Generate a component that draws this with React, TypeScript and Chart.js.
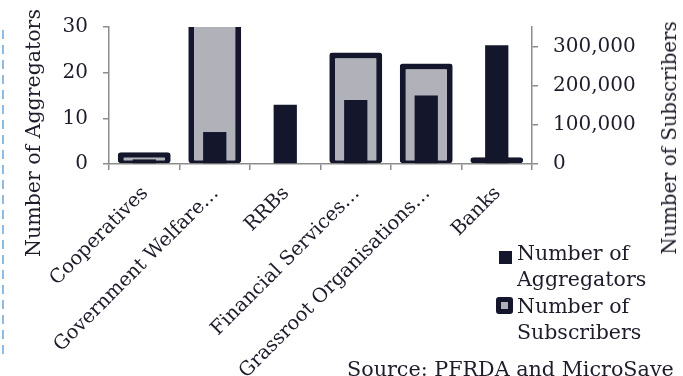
import React, { useEffect, useRef } from 'react';
import { Chart, registerables } from 'chart.js';

Chart.register(...registerables);

const categories = [
  'Cooperatives',
  'Government Welfare…',
  'RRBs',
  'Financial Services…',
  'Grassroot Organisations…',
  'Banks',
];
const aggregators = [1, 7, 13, 14, 15, 26];
const subscribers = [30000, 400000, 0, 285000, 257000, 17000];
const leftTicks = [0, 10, 20, 30];
const rightTicks = [0, 100000, 200000, 300000];
const seriesNames = ['Number of Aggregators', 'Number of Subscribers'];
const leftTitle = 'Number of Aggregators';
const rightTitle = 'Number of Subscribers';
const sourceText = 'Source: PFRDA and MicroSave';

const NAVY = '#14162b';
const GREY = '#b1b1b9';
const AXIS = '#8c8c8c';
const TEXT = '#1c1c2a';
const FONT = "'DejaVu Serif', serif";

export default function App() {
  const ref = useRef<HTMLCanvasElement | null>(null);

  useEffect(() => {
    document.body.style.margin = '0';
    const canvas = ref.current;
    if (!canvas) return;
    const chart = new Chart(canvas, {
      type: 'bar',
      data: {
        labels: categories,
        datasets: [
          {
            label: seriesNames[0],
            data: aggregators,
            yAxisID: 'y',
            backgroundColor: NAVY,
            borderWidth: 0,
            grouped: false,
            categoryPercentage: 1,
            barPercentage: 0.33,
            order: 0,
          },
          {
            label: seriesNames[1],
            data: subscribers,
            yAxisID: 'y1',
            backgroundColor: GREY,
            borderColor: NAVY,
            borderWidth: { top: 6, left: 6, right: 6, bottom: 3 },
            borderSkipped: false,
            borderRadius: 3,
            grouped: false,
            categoryPercentage: 1,
            barPercentage: 0.75,
            order: 1,
          },
        ],
      },
      options: {
        responsive: false,
        animation: false,
        devicePixelRatio: 1,
        layout: { padding: { top: 15, left: 0, right: 0, bottom: 0 } },
        plugins: {
          legend: { display: false },
          tooltip: { enabled: false },
          title: { display: false },
        },
        scales: {
          x: {
            offset: true,
            grid: {
              offset: true,
              drawOnChartArea: false,
              drawTicks: true,
              tickLength: 6,
              color: AXIS,
              lineWidth: 1.5,
            },
            border: { display: true, color: AXIS, width: 1.5 },
            ticks: {
              autoSkip: false,
              minRotation: 45,
              maxRotation: 45,
              padding: 12,
              labelOffset: 1,
              color: TEXT,
              font: { family: FONT, size: 19.5 },
            },
            afterFit: (s: any) => {
              s.height = 212;
            },
          },
          y: {
            position: 'left',
            min: 0,
            max: 30,
            afterBuildTicks: (s: any) => {
              s.ticks = leftTicks.map((v) => ({ value: v }));
            },
            grid: {
              drawOnChartArea: false,
              drawTicks: true,
              tickLength: 6,
              color: AXIS,
              lineWidth: 1.5,
            },
            border: { display: true, color: AXIS, width: 1.5 },
            ticks: {
              padding: 15,
              color: TEXT,
              font: { family: FONT, size: 20 },
            },
            afterFit: (s: any) => {
              s.width = 109;
            },
          },
          y1: {
            position: 'right',
            min: 0,
            max: 350000,
            afterBuildTicks: (s: any) => {
              s.ticks = rightTicks.map((v) => ({ value: v }));
            },
            grid: {
              drawOnChartArea: false,
              drawTicks: true,
              tickLength: 6,
              color: AXIS,
              lineWidth: 1.5,
            },
            border: { display: true, color: AXIS, width: 1.5 },
            ticks: {
              padding: 15,
              color: TEXT,
              font: { family: FONT, size: 20 },
              callback: (v: any) => Number(v).toLocaleString('en-US'),
            },
            afterFit: (s: any) => {
              s.width = 151;
            },
          },
        },
      },
    } as any);
    return () => chart.destroy();
  }, []);

  const textStyle: React.CSSProperties = {
    position: 'absolute',
    fontFamily: FONT,
    color: TEXT,
    whiteSpace: 'nowrap',
  };

  return (
    <div style={{ position: 'relative', width: 683, height: 376, overflow: 'hidden', background: '#fff' }}>
      <canvas ref={ref} width={683} height={376} style={{ position: 'absolute', left: 0, top: 0, width: 683, height: 376 }} />
      <div
        style={{
          position: 'absolute',
          left: 2,
          top: 30,
          width: 2,
          height: 330,
          background: 'repeating-linear-gradient(to bottom, #8dbbe3 0px, #8dbbe3 9px, transparent 9px, transparent 15px)',
        }}
      />
      <div
        style={{
          ...textStyle,
          fontSize: 20.5,
          lineHeight: '24px',
          left: 33,
          top: 133,
          transform: 'translate(-50%, -50%) rotate(-90deg)',
        }}
      >
        {leftTitle}
      </div>
      <div
        style={{
          ...textStyle,
          fontSize: 19.7,
          lineHeight: '24px',
          left: 670,
          top: 138,
          transform: 'translate(-50%, -50%) rotate(-90deg)',
        }}
      >
        {rightTitle}
      </div>
      <div style={{ position: 'absolute', left: 499, top: 251, width: 13, height: 13, background: NAVY }} />
      <div style={{ ...textStyle, fontSize: 20.5, lineHeight: '26px', left: 517, top: 240, whiteSpace: 'normal', width: 160 }}>
        Number of
        <br />
        Aggregators
      </div>
      <div
        style={{
          position: 'absolute',
          left: 496,
          top: 297,
          width: 7,
          height: 7,
          border: `5px solid ${NAVY}`,
          borderRadius: 3,
          background: GREY,
        }}
      />
      <div style={{ ...textStyle, fontSize: 20.5, lineHeight: '26px', left: 517, top: 293, whiteSpace: 'normal', width: 160 }}>
        Number of
        <br />
        Subscribers
      </div>
      <div style={{ ...textStyle, fontSize: 20.7, lineHeight: '20px', left: 347, top: 359 }}>{sourceText}</div>
    </div>
  );
}
